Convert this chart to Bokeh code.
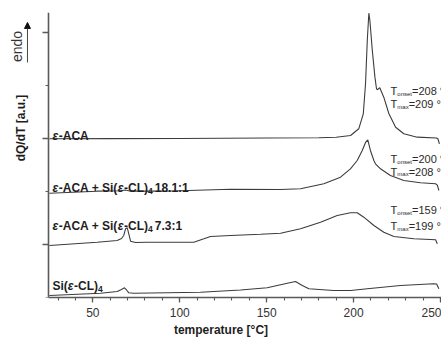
import math
from bokeh.plotting import figure
from bokeh.models import Label, Arrow, NormalHead, FixedTicker, SingleIntervalTicker
from bokeh.embed import file_html
from bokeh.resources import INLINE
from bokeh.core.properties import value

# ---------------- data ----------------
# temperature [°C] and dQ/dT [a.u.] (curves stacked with vertical offsets)
t_aca = [25, 60, 100, 150, 180, 190, 198.3, 203.0, 205.6, 206.9, 207.9, 208.8,
         209.4, 210.8, 212.3, 213.2, 213.6, 215.1, 217.4, 220.3, 224.2, 228.9,
         236.6, 247.8, 248.6, 249.4]
y_aca = [2.994, 2.997, 3.000, 3.009, 3.015, 3.023, 3.057, 3.183, 3.466, 4.032,
         4.849, 5.364, 5.226, 4.660, 4.157, 3.938, 3.919, 3.957, 3.779, 3.472,
         3.213, 3.089, 3.025, 3.009, 2.990, 2.900]

t_181 = [25, 52.5, 65.9, 68.8, 71.7, 90.7, 129.2, 158.0, 169.5, 182.9, 192.5,
         198.2, 202.1, 205.0, 206.9, 208.2, 209.7, 211.7, 212.6, 215.5, 221.2,
         228.9, 238.5, 247.2, 248.2, 249.1]
y_181 = [1.968, 2.006, 2.013, 2.028, 2.006, 2.006, 2.042, 2.038, 2.051, 2.145,
         2.270, 2.428, 2.585, 2.774, 2.925, 2.975, 2.774, 2.585, 2.523, 2.428,
         2.302, 2.208, 2.164, 2.145, 2.120, 2.019]

t_73 = [25, 52.5, 64.0, 66.5, 67.8, 68.8, 69.8, 70.7, 71.7, 74.6, 81.3, 100.5,
        108.1, 113.9, 117.7, 129.2, 146.5, 158.0, 169.5, 181.0, 190.6, 198.2,
        202.1, 205.9, 211.7, 217.4, 223.2, 234.7, 247.2, 248.2]
y_73 = [0.981, 1.043, 1.075, 1.113, 1.170, 1.296, 1.315, 1.202, 1.062, 1.038,
        1.043, 1.043, 1.043, 1.108, 1.151, 1.170, 1.194, 1.213, 1.296, 1.421,
        1.547, 1.598, 1.598, 1.515, 1.358, 1.232, 1.151, 1.108, 1.089, 1.013]

t_si = [25, 54.4, 64.0, 66.5, 68.2, 69.4, 70.7, 73.4, 112.0, 135.0, 150.3,
        161.9, 166.6, 170.5, 174.3, 188.5, 198.3, 207.9, 227.0, 246.0, 247.8,
        249.1]
y_si = [0.038, 0.081, 0.113, 0.151, 0.183, 0.142, 0.089, 0.081, 0.100, 0.142,
        0.183, 0.270, 0.302, 0.226, 0.164, 0.132, 0.132, 0.164, 0.226, 0.258,
        0.255, 0.164]

y_major = [1, 3, 5]
y_minor = [0, 2, 4]

onset_aca, max_aca = "208", "209"
onset_181, max_181 = "200", "208"
onset_73, max_73 = "159", "199"

# ---------------- figure ----------------
FONT = "Liberation Sans"
LINE = "#3c3c3c"
AX = "#5a5a5a"
TXT = "#1e1e1e"
T0, T1 = 24.5, 250.6          # visible temperature span of the axes

p = figure(width=441, height=340, x_range=(-3.12, T1), y_range=(0, 5.377),
           output_backend="svg", toolbar_location=None,
           min_border_left=0, min_border_right=0, min_border_top=12,
           min_border_bottom=43)
p.outline_line_color = None
p.grid.visible = False
p.background_fill_color = "white"

for t, y in [(t_aca, y_aca), (t_181, y_181), (t_73, y_73), (t_si, y_si)]:
    p.line(t, y, line_color=LINE, line_width=1.1)

# x axis
xa = p.xaxis[0]
xa.bounds = (T0, T1)
xa.ticker = SingleIntervalTicker(interval=50, num_minor_ticks=5)
xa.axis_line_color = AX
xa.axis_line_width = 1.6
xa.major_tick_line_color = AX
xa.minor_tick_line_color = AX
xa.major_tick_line_width = 1.3
xa.minor_tick_line_width = 1.1
xa.major_tick_in = 0
xa.major_tick_out = 5
xa.minor_tick_in = 0
xa.minor_tick_out = 3
xa.major_label_standoff = 5
xa.major_label_text_font = FONT
xa.major_label_text_font_size = "12px"
xa.major_label_text_color = "#333333"
xa.axis_label = "temperature [°C]"
xa.axis_label_text_font = FONT
xa.axis_label_text_font_size = "12px"
xa.axis_label_text_font_style = "bold"
xa.axis_label_text_color = TXT
xa.axis_label_standoff = 3

# y axis (sits at the left end of the temperature span)
ya = p.yaxis[0]
ya.fixed_location = T0
ya.ticker = FixedTicker(ticks=y_major, minor_ticks=y_minor)
ya.axis_line_color = AX
ya.axis_line_width = 1.6
ya.major_tick_line_color = AX
ya.minor_tick_line_color = AX
ya.major_tick_line_width = 1.3
ya.minor_tick_line_width = 1.1
ya.major_tick_in = 0
ya.major_tick_out = 6
ya.minor_tick_in = 0
ya.minor_tick_out = 3
ya.major_label_overrides = {1: "", 3: "", 5: ""}

# ---------------- rich text helper ----------------
W_BOLD = {' ': .278, '+': .584, '-': .333, '(': .333, ')': .333, '.': .278,
          ':': .333, 'A': .722, 'C': .722, 'L': .611, 'S': .667, 'i': .278,
          'ε': .52}
W_REG = {'T': .611, 'o': .556, 'n': .556, 's': .5, 'e': .556, 't': .278,
         'm': .833, 'a': .556, 'x': .5, '=': .584, ' ': .278, '°': .4,
         'C': .722}
PX_PER_Y = 53.0


def width(txt, size, style):
    tab = W_BOLD if "bold" in style else W_REG
    return sum(tab.get(c, .556) for c in txt) * size


def rich(x, y, segs, color=TXT):
    off = 0.0
    for txt, size, style, dy, gap in segs:
        p.text(x=[x], y=[y - dy / PX_PER_Y], text=[txt], x_offset=off,
               text_font=value(FONT), text_font_size=f"{size}px",
               text_font_style=style, text_color=color,
               text_align="left", text_baseline="alphabetic")
        off += width(txt, size, style) + gap


B, BI, N = "bold", "bold italic", "normal"
LX = 26.8
rich(LX, 3.047, [("ε", 12, BI, 0, 0), ("-ACA", 12, B, 0, 0)])
rich(LX, 2.075, [("ε", 12, BI, 0, 0), ("-ACA + Si(", 12, B, 0, 0),
                 ("ε", 12, BI, 0, 0), ("-CL)", 12, B, 0, 0),
                 ("4", 8.5, B, 3, 2), (" 18.1:1", 12, B, 0, 0)])
rich(LX, 1.349, [("ε", 12, BI, 0, 0), ("-ACA + Si(", 12, B, 0, 0),
                 ("ε", 12, BI, 0, 0), ("-CL)", 12, B, 0, 0),
                 ("4", 8.5, B, 3, 2), (" 7.3:1", 12, B, 0, 0)])
rich(LX, 0.217, [("Si(", 12, B, 0, 0), ("ε", 12, BI, 0, 0),
                 ("-CL)", 12, B, 0, 0), ("4", 8.5, B, 3, 0)])

TX = 221.3
for yb, sub, val in [(3.900, "onset", onset_aca), (3.642, "max", max_aca),
                     (2.613, "onset", onset_181), (2.377, "max", max_181),
                     (1.651, "onset", onset_73), (1.340, "max", max_73)]:
    rich(TX, yb, [("T", 11, N, 0, 0), (sub, 6, N, 2.8, 0),
                  (f"={val} °C", 11, N, 0, 0)], color="#2a2a2a")

# ---------------- annotations left of the y axis ----------------
p.add_layout(Label(x=8.4, y=3.198, text="dQ/dT [a.u.]", angle=math.pi / 2,
                   text_align="center", text_baseline="middle",
                   text_font=FONT, text_font_size="12px",
                   text_font_style="bold", text_color=TXT))
p.add_layout(Label(x=6.1, y=4.736, text="endo", angle=math.pi / 2,
                   text_align="center", text_baseline="middle",
                   text_font=FONT, text_font_size="14px", text_color="#333333"))
p.add_layout(Arrow(x_start=12.4, y_start=4.434, x_end=12.4, y_end=5.189,
                   line_color="#444444", line_width=1.0,
                   end=NormalHead(size=6, line_color="#111111",
                                  fill_color="#111111")))

open("out.html", "w").write(file_html(p, INLINE))
